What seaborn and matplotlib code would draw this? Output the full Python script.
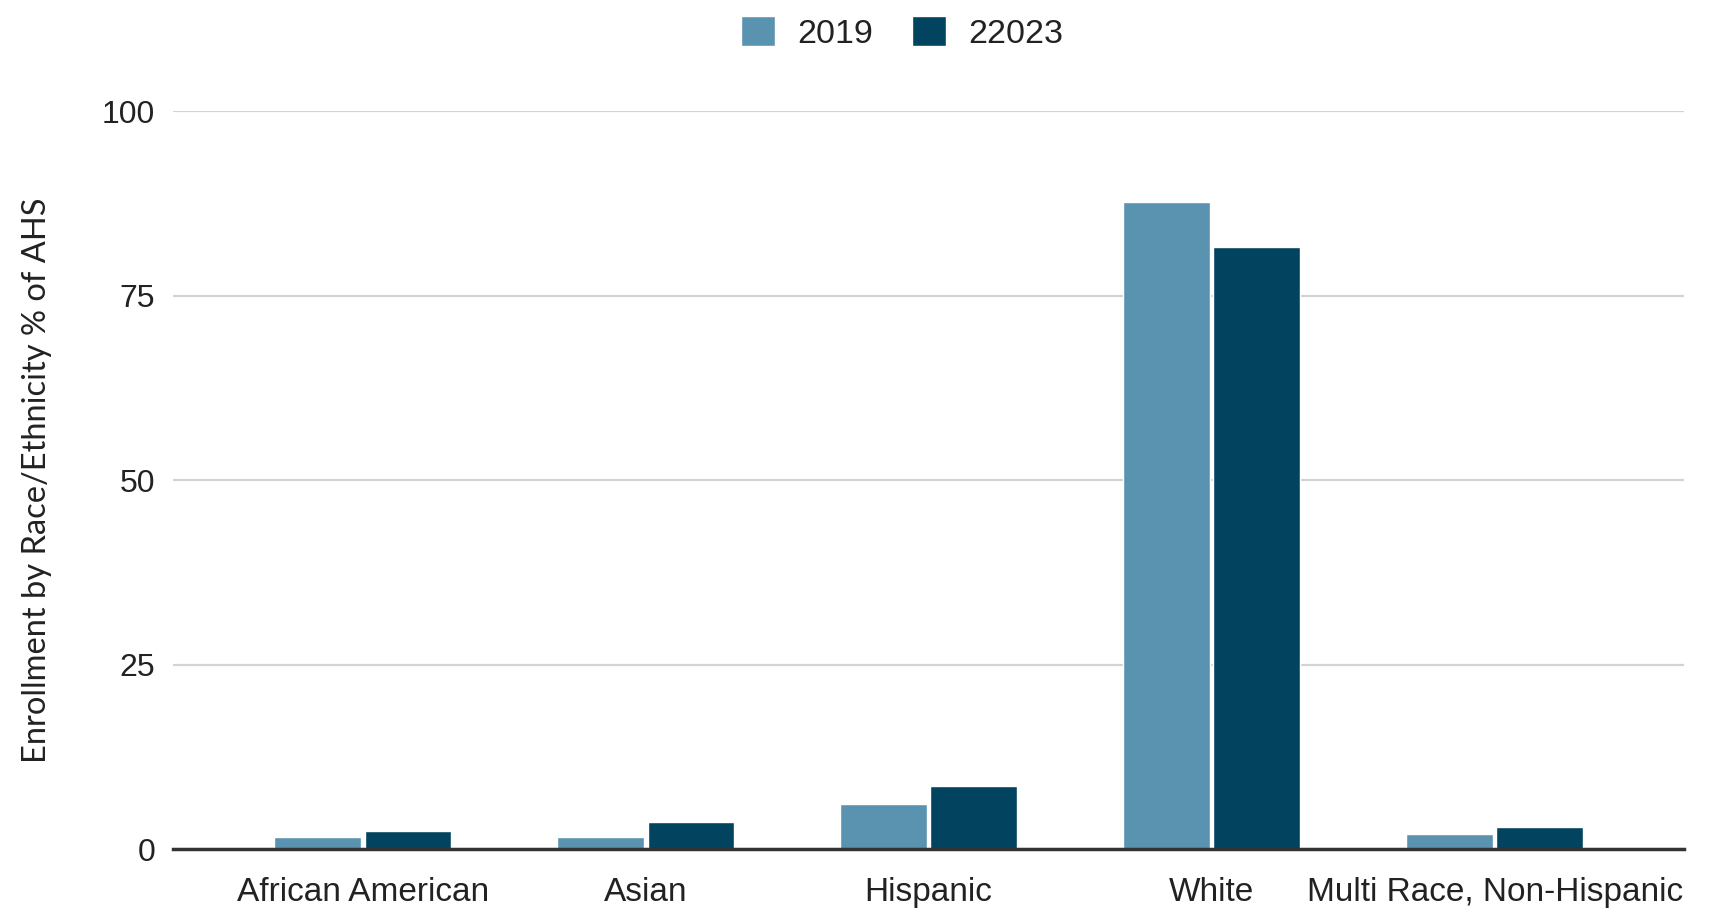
import seaborn as sns
import matplotlib.pyplot as plt
import pandas as pd

sns.set_style('white')
plt.rcParams['font.family'] = ['Liberation Sans', 'DejaVu Sans']

# data
categories = ['African American', 'Asian', 'Hispanic', 'White', 'Multi Race, Non-Hispanic']
vals_2019 = [1.6, 1.6, 6.1, 87.7, 2.1]
vals_2023 = [2.5, 3.7, 8.5, 81.6, 3.0]
years = ['2019', '22023']
colors = ['#5a93b0', '#02445f']

df = pd.DataFrame({
    'group': categories * 2,
    'value': vals_2019 + vals_2023,
    'year': [years[0]] * 5 + [years[1]] * 5,
})

fig = plt.figure(figsize=(17.31, 9.13), dpi=100)
ax = fig.add_axes([0.1, 0.07, 0.873, 0.808])

sns.barplot(data=df, x='group', y='value', hue='year', palette=colors,
            width=0.64, gap=0.04, saturation=1, ax=ax, legend=True)

ax.set_ylim(0, 100)
ax.set_xlim(-0.67, 4.67)
ax.set_yticks([0, 25, 50, 75, 100])
ax.yaxis.grid(True, color='#d3d3d3', linewidth=1.6)
ax.set_axisbelow(True)
for s in ['top', 'right', 'left']:
    ax.spines[s].set_visible(False)
ax.spines['bottom'].set_color('#333333')
ax.spines['bottom'].set_linewidth(2.5)
ax.tick_params(axis='x', length=0, labelsize=24, colors='#222222', pad=20)
ax.tick_params(axis='y', length=0, labelsize=23, colors='#222222', pad=13)
ax.set_xlabel('')
ax.set_ylabel('Enrollment by Race/Ethnicity % of AHS', fontsize=23.5,
              family=['Lato', 'DejaVu Sans'], color='#222222', labelpad=36)

handles, labels = ax.get_legend_handles_labels()
ax.legend_.remove()
fig.legend(handles, labels, loc='upper center', bbox_to_anchor=(0.521, 1.016), ncol=2,
           frameon=False, fontsize=24.5, handlelength=1.0, handleheight=1.0,
           columnspacing=1.15, handletextpad=0.65, labelcolor='#222222')

fig.savefig('out.png', dpi=100)
